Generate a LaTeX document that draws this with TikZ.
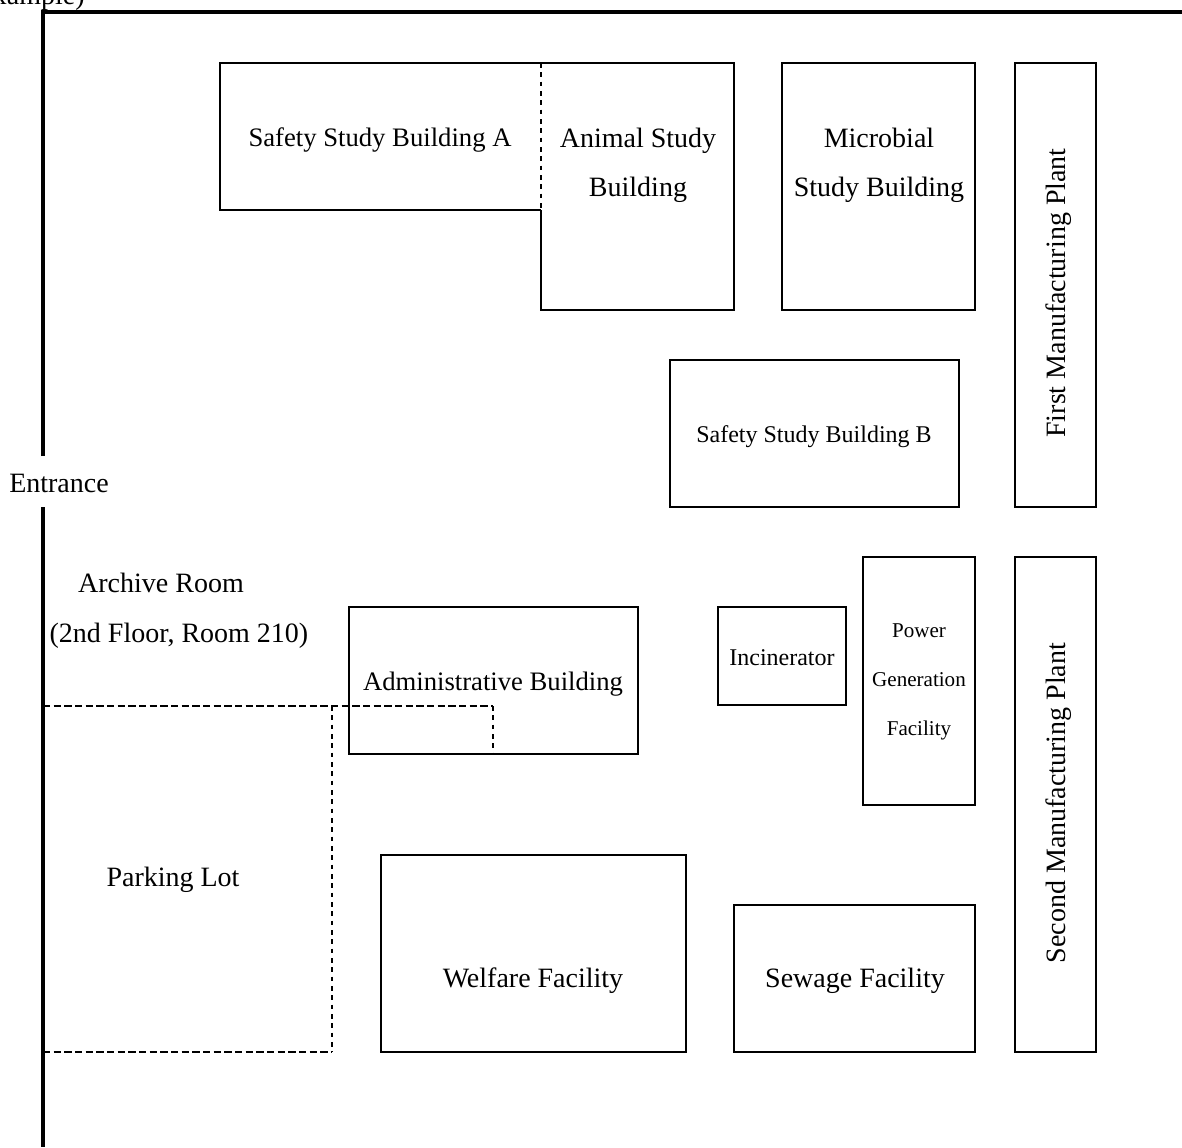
\documentclass[tikz,border=0pt]{standalone}
\usepackage{fontspec}
\setmainfont{Liberation Serif}
\tikzset{x=0.75pt,y=-0.75pt,
 bld/.style={draw=black,line width=1.5pt,fill=none},
 wall/.style={draw=black,line width=3pt},
 dsh/.style={draw=black,line width=1.1pt,dash pattern=on 5.5pt off 2.5pt},
 dshv/.style={draw=black,line width=1.1pt,dash pattern=on 3.5pt off 3.5pt},
 lbl/.style={inner sep=0pt,align=center,font=\fontsize{21}{36.5}\selectfont},
 lbm/.style={inner sep=0pt,align=center,font=\fontsize{20}{36.5}\selectfont},
 lbs/.style={inner sep=0pt,align=center,font=\fontsize{18}{36.5}\selectfont},
 lbt/.style={inner sep=0pt,align=center,font=\fontsize{15.8}{36.5}\selectfont}}
\begin{document}
\begin{tikzpicture}
\useasboundingbox (0,0) rectangle (1182,1147);
\coordinate (w1) at (43,456);
\coordinate (w2) at (43,12);
\coordinate (w3) at (1182,12);
\coordinate (w4) at (43,507);
\coordinate (w5) at (43,1147);
\begin{scope}
\clip (0,0) rectangle (1182,1147);
\node[lbl,anchor=base east] (ex) at (85,4) {xample)};
\end{scope}
\draw[wall] (w1) -- (w2) -- (w3);
\draw[wall] (w4) -- (w5);
% Buildings
\coordinate (a1) at (541,63); \coordinate (a2) at (220,63);
\coordinate (a3) at (220,210); \coordinate (a4) at (541,210);
\draw[bld] (a1) -- (a2) -- (a3) -- (a4);
\draw[dshv] (a1) -- (a4);
\coordinate (b2) at (734,63);
\coordinate (b3) at (734,310); \coordinate (b4) at (541,310);
\draw[bld] (a1) -- (b2) -- (b3) -- (b4) -- (a4);
\draw[bld] (782,63) rectangle (975,310);
\draw[bld] (1015,63) rectangle (1096,507);
\draw[bld] (670,360) rectangle (959,507);
\draw[bld] (1015,557) rectangle (1096,1052);
\draw[bld] (863,557) rectangle (975,805);
\draw[bld] (718,607) rectangle (846,705);
\draw[bld] (349,607) rectangle (638,754);
\draw[bld] (381,855) rectangle (686,1052);
\draw[bld] (734,905) rectangle (975,1052);
% parking
\coordinate (p1) at (43,706); \coordinate (p2) at (493,706);
\coordinate (p3) at (493,754); \coordinate (p4) at (332,706);
\coordinate (p5) at (332,1052); \coordinate (p6) at (43,1052);
\draw[dsh] (p1) -- (p2);
\draw[dshv] (p2) -- (p3);
\draw[dshv] (p4) -- (p5);
\draw[dsh] (p6) -- (p5);
% labels
\node[lbm] (t1) at (380,140) {Safety Study Building A};
\node[lbl] (t2) at (638,165) {Animal Study\\Building};
\node[lbl] (t3) at (879,165) {Microbial\\Study Building};
\node[lbl,rotate=90] (t4) at (1059,293) {First Manufacturing Plant};
\node[lbs] (t5) at (814,437) {Safety Study Building B};
\node[lbl] (t6) at (59,483) {Entrance};
\node[lbl] (t7a) at (161,583) {Archive Room};
\node[lbl] (t7b) at (179,636) {(2nd Floor, Room 210)};
\node[lbm] (t8) at (493,684) {Administrative Building};
\node[lbs] (t9) at (782,658) {Incinerator};
\node[lbt] (t10) at (919,682) {Power\\Generation\\Facility};
\node[lbl,rotate=90] (t11) at (1059,803) {Second Manufacturing Plant};
\node[lbl] (t12) at (173,880) {Parking Lot};
\node[lbl] (t13) at (533,981) {Welfare Facility};
\node[lbl] (t14) at (855,981) {Sewage Facility};
\end{tikzpicture}
\end{document}
